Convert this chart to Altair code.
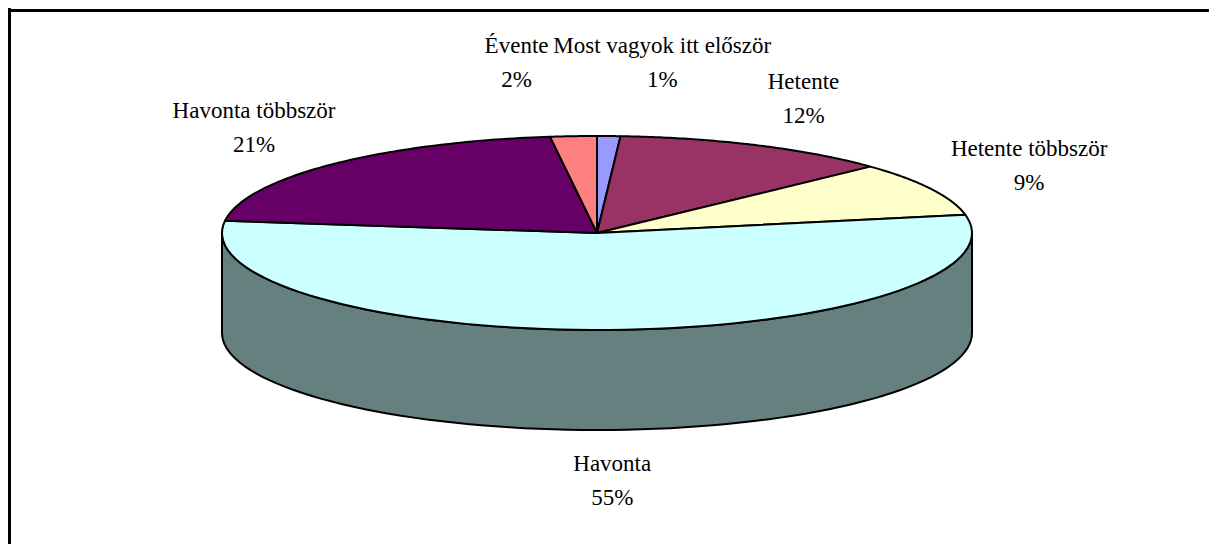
import altair as alt
import pandas as pd

# ---- data ----
categories = ["Most vagyok itt először", "Hetente", "Hetente többször",
              "Havonta", "Havonta többször", "Évente"]
values = [1, 12, 9, 55, 21, 2]

# ---- styles ----
top_colors = ["#9999FF", "#993366", "#FFFFCC", "#CCFFFF", "#660066", "#FF8080"]
side_colors = ["#4D4D80", "#4D1A33", "#808066", "#668080", "#330033", "#804040"]

W, H = 1201, 536          # chart area (page margin 8px)
CX, CY = 589, 225         # ellipse centre
A, B = 375, 97            # ellipse radii
D = 100                   # pie depth
N = 80                    # arc resolution
RX, RY = 485, 148         # label ellipse
FONT = "'Liberation Serif', 'Times New Roman', Times, serif"

df = pd.DataFrame({"category": categories, "value": values,
                   "order": list(range(len(categories)))})

xs = alt.Scale(domain=[0, W], nice=False, zero=False)
ys = alt.Scale(domain=[0, H], nice=False, zero=False, reverse=True)

base = (
    alt.Chart(df)
    .transform_window(cum="sum(value)", sort=[alt.SortField("order")], frame=[None, 0])
    .transform_joinaggregate(total="sum(value)")
    .transform_calculate(
        a0="(datum.cum - datum.value) / datum.total * 2 * PI",
        a1="datum.cum / datum.total * 2 * PI",
    )
)

# side walls (front half only)
side = (
    base.transform_calculate(s0="max(datum.a0, PI/2)", s1="min(datum.a1, 3*PI/2)")
    .transform_filter("datum.s1 > datum.s0")
    .transform_calculate(ks=f"sequence(0, {2 * N + 3})")
    .transform_flatten(["ks"], as_=["k"])
    .transform_calculate(
        t=f"datum.k <= {N} ? datum.s0 + (datum.s1 - datum.s0) * datum.k / {N} : "
          f"(datum.k <= {2 * N + 1} ? datum.s1 - (datum.s1 - datum.s0) * (datum.k - {N + 1}) / {N} : datum.s0)",
        dz=f"(datum.k > {N} && datum.k <= {2 * N + 1}) ? {D} : 0",
    )
    .transform_calculate(
        px=f"{CX} + {A} * sin(datum.t)",
        py=f"{CY} - {B} * cos(datum.t) + datum.dz",
    )
    .mark_line(filled=True, stroke="black", strokeWidth=2, strokeJoin="round")
    .encode(
        x=alt.X("px:Q", scale=xs, axis=None),
        y=alt.Y("py:Q", scale=ys, axis=None),
        order=alt.Order("k:Q"),
        fill=alt.Fill("category:N", scale=alt.Scale(domain=categories, range=side_colors), legend=None),
    )
)

# top faces
top = (
    base.transform_calculate(ks=f"sequence(0, {N + 3})")
    .transform_flatten(["ks"], as_=["k"])
    .transform_calculate(
        t=f"datum.a0 + (datum.a1 - datum.a0) * clamp(datum.k - 1, 0, {N}) / {N}",
        c=f"(datum.k == 0 || datum.k == {N + 2}) ? 1 : 0",
    )
    .transform_calculate(
        px=f"datum.c ? {CX} : {CX} + {A} * sin(datum.t)",
        py=f"datum.c ? {CY} : {CY} - {B} * cos(datum.t)",
    )
    .mark_line(filled=True, stroke="black", strokeWidth=2, strokeJoin="round")
    .encode(
        x=alt.X("px:Q", scale=xs, axis=None),
        y=alt.Y("py:Q", scale=ys, axis=None),
        order=alt.Order("k:Q"),
        fill=alt.Fill("category:N", scale=alt.Scale(domain=categories, range=top_colors), legend=None),
    )
)

# labels
labels = (
    base.transform_calculate(mid="(datum.a0 + datum.a1) / 2")
    .transform_calculate(
        narrow="cos(datum.mid) > 0 && abs(sin(datum.mid)) < 0.1",
    )
    .transform_calculate(
        lx=f"{CX} + {RX} * sin(datum.mid) + (datum.narrow ? (sin(datum.mid) > 0 ? 50 : -50) : 0)",
        ly=f"{CY} - ({RY} + (datum.narrow ? 22 : 0)) * cos(datum.mid) + (cos(datum.mid) < 0 ? {D} : 0)",
        label="datum.category + '\\n' + format(datum.value / datum.total, '.0%')",
    )
    .mark_text(font=FONT, fontSize=23, lineHeight=34, lineBreak="\n", dy=-17,
               align="center", baseline="middle", color="black")
    .encode(
        x=alt.X("lx:Q", scale=xs, axis=None),
        y=alt.Y("ly:Q", scale=ys, axis=None),
        text="label:N",
    )
)

# chart frame (top and left edges visible in the reference)
frame_left = alt.Chart(df).mark_rule(color="black", strokeWidth=3).encode(
    x=alt.value(1.5), y=alt.value(0), y2=alt.value(H))
frame_top = alt.Chart(df).mark_rule(color="black", strokeWidth=3).encode(
    y=alt.value(2.5), x=alt.value(0), x2=alt.value(W))

chart = (
    alt.layer(side, top, labels, frame_left, frame_top)
    .resolve_scale(fill="independent")
    .properties(width=W, height=H, padding=0, autosize=alt.AutoSizeParams(type="none"),
                background="white")
    .configure_view(stroke=None)
)

chart.save("out.html", embed_options={"renderer": "svg", "actions": False})
